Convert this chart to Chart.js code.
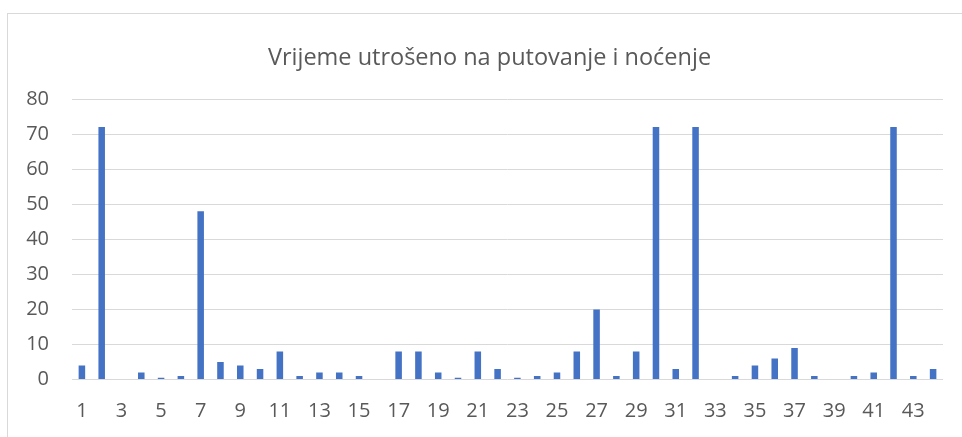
<!DOCTYPE html>
<html>
<head>
<meta charset="utf-8">
<script src="https://cdn.jsdelivr.net/npm/chart.js@4"></script>
<style>
  html, body { margin: 0; padding: 0; background: #fff; }
  #wrap { position: relative; width: 962px; height: 437px; overflow: hidden; }
  #frame { position: absolute; left: 7px; top: 13px; width: 1000px; height: 500px;
           border-left: 1px solid #d9d9d9; border-top: 1px solid #d9d9d9; box-sizing: border-box; pointer-events: none; }
  canvas { position: absolute; left: 0; top: 0; }
</style>
</head>
<body>
<div id="wrap">
  <canvas id="c" width="962" height="437"></canvas>
  <div id="frame"></div>
</div>
<script>
const chartTitle = "Vrijeme utrošeno na putovanje i noćenje";
const categories = ["1","2","3","4","5","6","7","8","9","10","11","12","13","14","15","16","17","18","19","20","21","22","23","24","25","26","27","28","29","30","31","32","33","34","35","36","37","38","39","40","41","42","43","44"];
const hours = [4,72,0,2,0.5,1,48,5,4,3,8,1,2,2,1,0,8,8,2,0.5,8,3,0.5,1,2,8,20,1,8,72,3,72,0,1,4,6,9,1,0,1,2,72,1,3];
const yTicks = [0,10,20,30,40,50,60,70,80];

const FONT = "'Open Sans', sans-serif";
const TEXT = "#595959";

new Chart(document.getElementById('c'), {
  type: 'bar',
  data: {
    labels: categories,
    datasets: [{
      label: chartTitle,
      data: hours,
      backgroundColor: '#4472C4',
      borderWidth: 0,
      barPercentage: 0.33,
      categoryPercentage: 1.0
    }]
  },
  options: {
    responsive: false,
    animation: false,
    devicePixelRatio: 1,
    layout: { padding: { left: 17, right: 0, top: 0, bottom: 0 } },
    plugins: {
      legend: { display: false },
      tooltip: { enabled: false },
      title: {
        display: true,
        text: chartTitle,
        color: TEXT,
        font: { family: FONT, size: 23.5, weight: 'normal', lineHeight: 1.2 },
        padding: { top: 44, bottom: 26.8 }
      }
    },
    scales: {
      x: {
        grid: { display: false, drawTicks: false },
        border: { display: false },
        ticks: {
          color: TEXT,
          font: { family: FONT, size: 20 },
          autoSkip: false,
          maxRotation: 0,
          padding: 20,
          callback: function(v, i) { return i % 2 === 0 ? categories[i] : ''; }
        },
        afterFit: function(s) { s.height = 57.5; }
      },
      y: {
        min: 0, max: 80,
        afterBuildTicks: function(s) { s.ticks = yTicks.map(v => ({ value: v })); },
        grid: { color: '#d9d9d9', lineWidth: 1, drawTicks: false },
        border: { display: false },
        ticks: {
          color: TEXT,
          font: { family: FONT, size: 20 },
          padding: 23
        },
        afterFit: function(s) { s.width = 55; }
      },
      yRight: {
        position: 'right',
        display: true,
        grid: { display: false, drawTicks: false },
        border: { display: false },
        ticks: { display: false },
        afterFit: function(s) { s.width = 19; }
      }
    }
  }
});
</script>
</body>
</html>
